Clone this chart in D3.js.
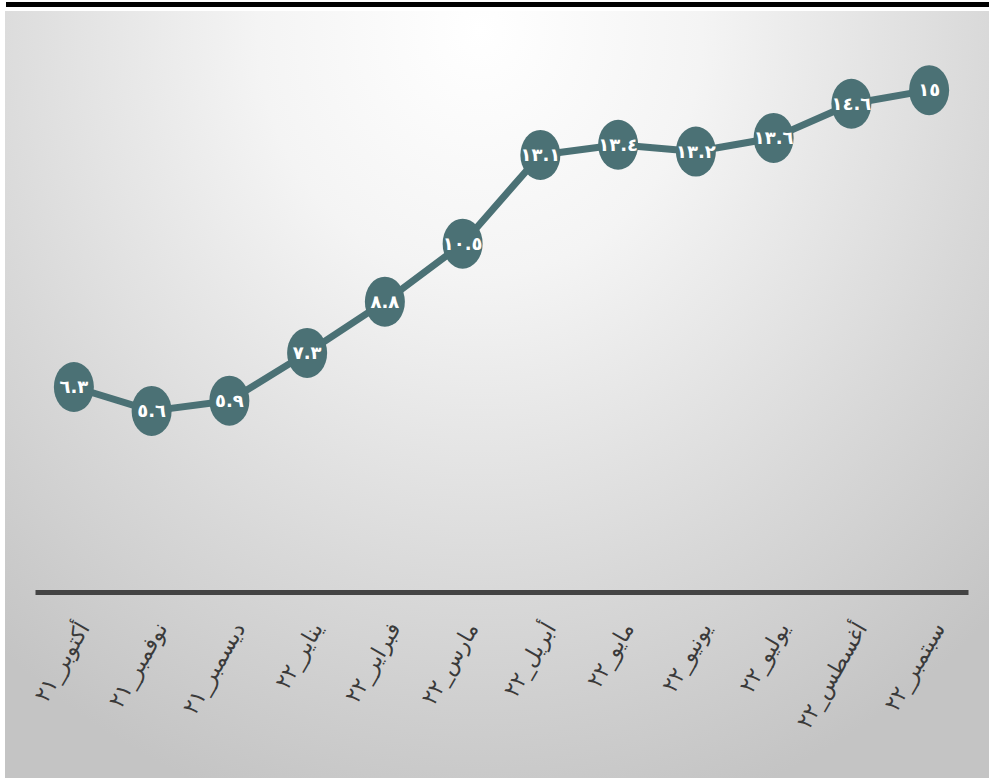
<!DOCTYPE html>
<html><head><meta charset="utf-8">
<script src="https://cdn.jsdelivr.net/npm/d3@7"></script>
<style>html,body{margin:0;padding:0;background:#fff;}svg{display:block;}</style>
</head><body>
<svg id="chart" width="989" height="778"></svg>
<script>
const months = ["أكتوبر_٢١","نوفمبر_٢١","ديسمبر_٢١","يناير_٢٢","فبراير_٢٢","مارس_٢٢","أبريل_٢٢","مايو_٢٢","يونيو_٢٢","يوليو_٢٢","أغسطس_٢٢","سبتمبر_٢٢"];
const values = [6.3, 5.6, 5.9, 7.3, 8.8, 10.5, 13.1, 13.4, 13.2, 13.6, 14.6, 15];

const toArabic = s => String(s).replace(/[0-9]/g, d => "٠١٢٣٤٥٦٧٨٩"[+d]);
const fmt = v => toArabic(d3.format("~g")(v));

const svg = d3.select("#chart");
const W = 989, H = 778;
const defs = svg.append("defs");
const grad = defs.append("radialGradient").attr("id","bg")
  .attr("gradientUnits","userSpaceOnUse")
  .attr("cx", 480).attr("cy", 30).attr("r", 740)
  .attr("gradientTransform","translate(480,30) scale(1,1.1) translate(-480,-30)");
grad.append("stop").attr("offset","0").attr("stop-color","#ffffff");
grad.append("stop").attr("offset","0.3").attr("stop-color","#f4f4f4");
grad.append("stop").attr("offset","0.7").attr("stop-color","#d8d8d8");
grad.append("stop").attr("offset","1").attr("stop-color","#c4c4c4");

svg.append("rect").attr("x",5).attr("y",11).attr("width",W-5).attr("height",H-11).attr("fill","url(#bg)");
svg.append("rect").attr("x",6).attr("y",2).attr("width",W-6).attr("height",5).attr("fill","#000");

const x = d3.scalePoint().domain(months).range([35, 968]).padding(0.5);
const y = d3.scaleLinear().domain([0, 16]).range([602, 56]);

// axis
const axisY = 592;
const ax = svg.append("g").attr("transform",`translate(0,${axisY})`)
  .call(d3.axisBottom(x).tickSize(0).tickSizeOuter(0));
ax.select(".domain").attr("stroke","#444").attr("stroke-width",5);
ax.selectAll(".tick text")
  .attr("font-family","DejaVu Sans")
  .attr("font-size",22)
  .attr("fill","#3a3a3a")
  .attr("text-anchor","end")
  .attr("y",0).attr("dy",0)
  .attr("transform","translate(16,36) rotate(-60)");

// line
const data = months.map((m,i)=>({m, v: values[i]}));
svg.append("path").datum(data)
  .attr("fill","none").attr("stroke","#4b7175").attr("stroke-width",7)
  .attr("stroke-linejoin","round")
  .attr("d", d3.line().x(d=>x(d.m)).y(d=>y(d.v)));

const g = svg.append("g").selectAll("g").data(data).join("g")
  .attr("transform", d=>`translate(${x(d.m)},${y(d.v)})`);
g.append("ellipse").attr("rx",20).attr("ry",25).attr("fill","#4b7175");
g.append("text").text(d=>fmt(d.v))
  .attr("text-anchor","middle").attr("dy","0.35em")
  .attr("font-family","DejaVu Sans").attr("font-weight","bold")
  .attr("font-size",18).attr("fill","#fff");
</script>
</body></html>
